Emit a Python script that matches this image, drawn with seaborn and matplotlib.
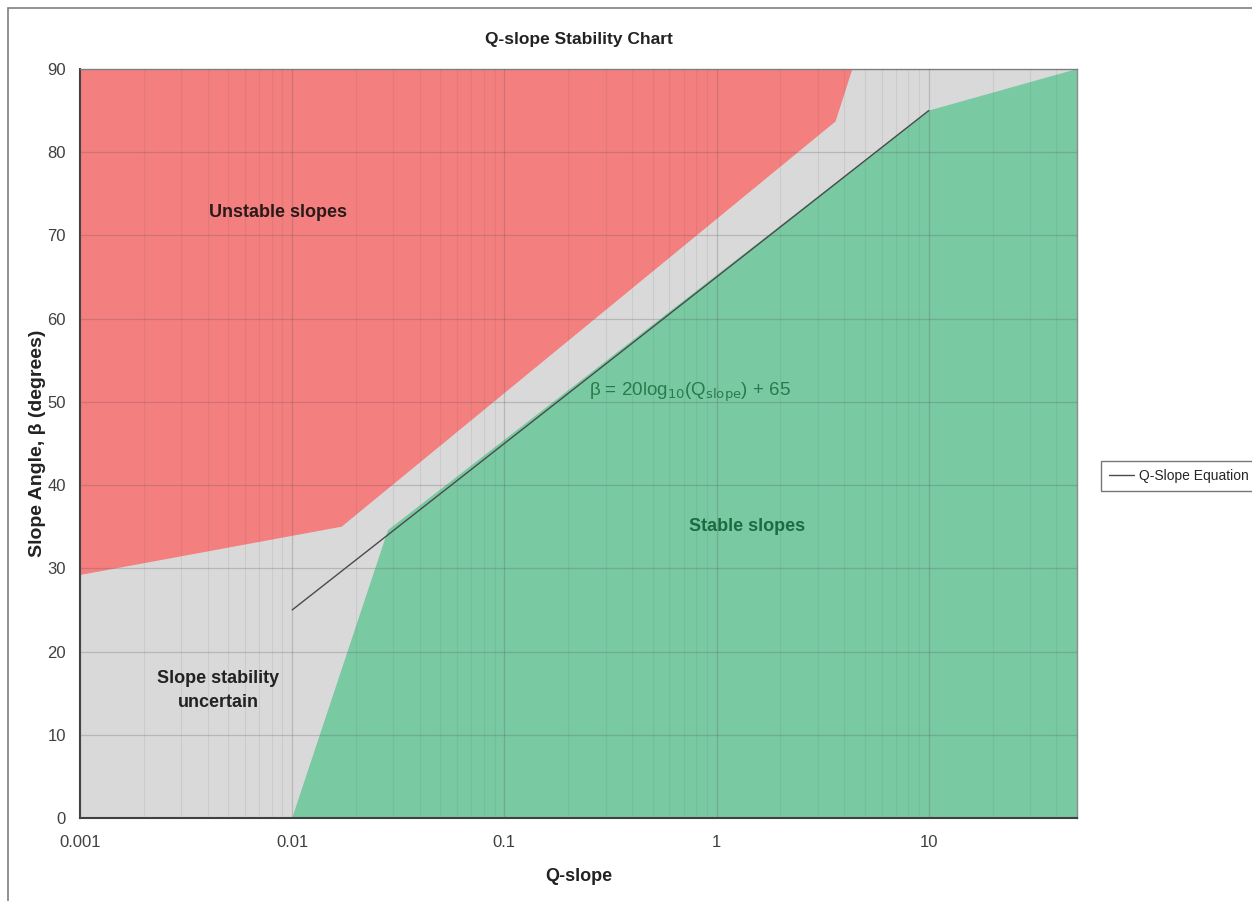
import matplotlib
matplotlib.use("Agg")
import matplotlib.pyplot as plt
import seaborn as sns
import numpy as np
import pandas as pd
from matplotlib.patches import Rectangle
from matplotlib.ticker import LogLocator, FixedLocator, NullFormatter

# --- data ---
x_ticks = [0.001, 0.01, 0.1, 1, 10]
x_tick_labels = ["0.001", "0.01", "0.1", "1", "10"]
y_ticks = [0, 10, 20, 30, 40, 50, 60, 70, 80, 90]

# Unstable (red) region boundary
red_q = [0.001, 0.001, 0.0171, 3.64, 4.37]
red_beta = [90, 29.2, 35.0, 83.7, 90]

# Stable (green) region boundary
green_q = [0.01, 0.0283, 10, 50, 50]
green_beta = [0, 34.6, 85, 90, 0]

# Q-slope equation line
line_q = [0.01, 10]
line_beta = [25, 85]

sns.set_theme(style="white")
plt.rcParams['font.family'] = ['Liberation Sans', 'DejaVu Sans']

fig = plt.figure(figsize=(12.52, 9.01), dpi=100)
ax = fig.add_axes([80/1252, 1-818/901, (1077-80)/1252, (818-69)/901])

# figure frame (left and top visible)
fig.patches.append(Rectangle((8/1252, -0.02), 1.1, 1-8/901+0.02, transform=fig.transFigure,
                             fill=False, edgecolor="#7f7f7f", linewidth=1.2, zorder=0))

ax.set_facecolor("#d9d9d9")
ax.fill(red_q, red_beta, color="#f47f7f", lw=0, zorder=1)
ax.fill(green_q, green_beta, color="#79c9a3", lw=0, zorder=1)

df = pd.DataFrame({"Q-slope": line_q, "beta": line_beta})
sns.lineplot(data=df, x="Q-slope", y="beta", ax=ax, color="#4a4a4a", linewidth=1.0,
             label="Q-Slope Equation", zorder=4, legend=False)

ax.set_xscale("log")
ax.set_xlim(0.001, 50)
ax.set_ylim(0, 90)
ax.xaxis.set_major_locator(FixedLocator(x_ticks))
ax.set_xticklabels(x_tick_labels)
ax.xaxis.set_minor_locator(LogLocator(base=10, subs=np.arange(2, 10)))
ax.xaxis.set_minor_formatter(NullFormatter())
ax.set_yticks(y_ticks)

ax.grid(True, which="major", axis="both", color="#555555", alpha=0.25, linewidth=0.9, zorder=3)
ax.grid(True, which="minor", axis="x", color="#555555", alpha=0.10, linewidth=0.8, zorder=3)
ax.set_axisbelow(False)
ax.tick_params(axis="both", which="both", length=0, labelsize=12, labelcolor="#404040")
ax.tick_params(axis="x", pad=12)
ax.tick_params(axis="y", pad=10)

for s in ["left", "bottom"]:
    ax.spines[s].set_color("#404040")
    ax.spines[s].set_linewidth(1.5)
for s in ["top", "right"]:
    ax.spines[s].set_color("#8c8c8c")
    ax.spines[s].set_linewidth(1.0)

ax.set_title("Q-slope Stability Chart", fontsize=12.5, fontweight="bold", color="#222222", pad=18)
ax.set_xlabel("Q-slope", fontsize=13, fontweight="bold", color="#222222", labelpad=13)
ax.set_ylabel("Slope Angle, β (degrees)", fontsize=14, fontweight="bold", color="#222222", labelpad=1)

ax.text(0.00857, 72.8, "Unstable slopes", fontsize=13, fontweight="bold", color="#2a1a1a",
        ha="center", va="center", zorder=5)
ax.text(0.00447, 15.3, "Slope stability\nuncertain", fontsize=13, fontweight="bold", color="#222222",
        ha="center", va="center", linespacing=1.5, zorder=5)
ax.text(1.39, 35.0, "Stable slopes", fontsize=13, fontweight="bold", color="#1d6b40",
        ha="center", va="center", zorder=5)
ax.text(0.746, 51.2, r"β = 20log$_{10}$(Q$_{\mathrm{slope}}$) + 65", fontsize=13.5, color="#2b7a4b",
        ha="center", va="center", zorder=5)

handles, labels = ax.get_legend_handles_labels()
leg = fig.legend(handles, labels, loc="center left", bbox_to_anchor=(1101/1252, 1-476/901),
                 frameon=True, fancybox=False, fontsize=10, handlelength=1.8, handletextpad=0.4,
                 edgecolor="#555555", borderpad=0.55, borderaxespad=0)
leg.get_frame().set_linewidth(1.0)

fig.savefig("out.png", dpi=100)
